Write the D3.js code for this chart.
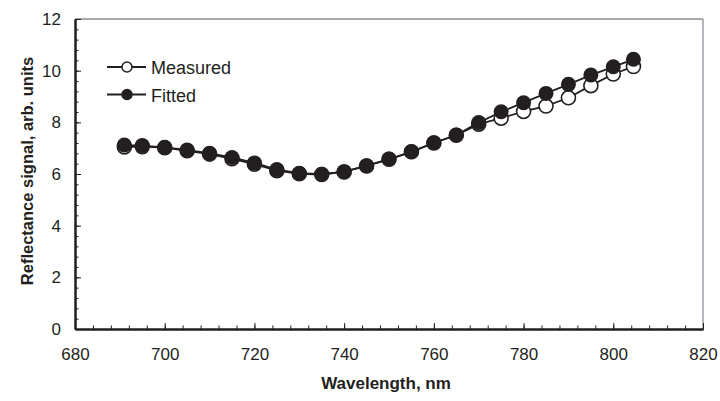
<!DOCTYPE html>
<html lang='en'>
	<head>
		<meta charset='utf-8'>
		<title>Reflectance signal</title>
		<script type='text/javascript' src='https://cdn.jsdelivr.net/npm/d3@7'></script>
		<style>
			body { margin: 0; background: #fff; }
			text { font-family: 'Liberation Sans', Arial, Helvetica, sans-serif; fill: #231f20; }
		</style>
	</head>
	<body>
	</body>
	<script type='text/javascript'>
	var wavelength = [691, 695, 700, 705, 710, 715, 720, 725, 730, 735, 740, 745, 750, 755, 760, 765, 770, 775, 780, 785, 790, 795, 800, 804.5];
	var measured = [7.05, 7.06, 7.02, 6.9, 6.77, 6.59, 6.38, 6.13, 6.01, 5.98, 6.08, 6.31, 6.57, 6.86, 7.2, 7.5, 7.93, 8.16, 8.42, 8.63, 8.95, 9.42, 9.87, 10.16];
	var fitted = [7.12, 7.1, 7.03, 6.93, 6.8, 6.64, 6.43, 6.17, 6.03, 5.99, 6.09, 6.32, 6.58, 6.86, 7.21, 7.51, 7.99, 8.41, 8.76, 9.12, 9.47, 9.83, 10.15, 10.44];
	var x_ticks = [680, 700, 720, 740, 760, 780, 800, 820];
	var y_ticks = [0, 2, 4, 6, 8, 10, 12];
	var series_names = ['Measured', 'Fitted'];

	function plot_it() {
		var width = 720, height = 401;
		var plot_left = 75, plot_right = 703, plot_top = 19, plot_bottom = 329;
		var ink = '#231f20';

		var svg = d3.select('body').append('svg').attr('width', width).attr('height', height);

		var x_scale = d3.scaleLinear().domain([680, 820]).range([plot_left, plot_right]);
		var y_scale = d3.scaleLinear().domain([0, 12]).range([plot_bottom, plot_top]);

		// frame: top and right in grey
		svg.append('line').attr('x1', plot_left).attr('x2', plot_right).attr('y1', plot_top).attr('y2', plot_top)
			.attr('stroke', '#8c8c8c').attr('stroke-width', 1.5);
		svg.append('line').attr('x1', plot_right).attr('x2', plot_right).attr('y1', plot_top).attr('y2', plot_bottom)
			.attr('stroke', '#9aa0a8').attr('stroke-width', 1.5);

		var x_minor = d3.range(680, 821, 4);
		var y_minor = d3.range(0, 12.01, 0.4);

		svg.append('g').attr('transform', 'translate(0,' + plot_bottom + ')')
			.call(d3.axisBottom(x_scale).tickValues(x_minor).tickFormat('').tickSize(-3.5).tickSizeOuter(0));
		svg.append('g').attr('transform', 'translate(' + plot_left + ',0)')
			.call(d3.axisLeft(y_scale).tickValues(y_minor).tickFormat('').tickSize(-3.5).tickSizeOuter(0));

		svg.append('g').attr('transform', 'translate(0,' + plot_bottom + ')')
			.call(d3.axisBottom(x_scale).tickValues(x_ticks).tickSize(-6).tickSizeOuter(0).tickPadding(19));
		svg.append('g').attr('transform', 'translate(' + plot_left + ',0)')
			.call(d3.axisLeft(y_scale).tickValues(y_ticks).tickSize(-6).tickSizeOuter(0).tickPadding(14));

		svg.selectAll('.domain').attr('stroke', ink).attr('stroke-width', 2);
		svg.selectAll('.tick line').attr('stroke', ink).attr('stroke-width', 1);
		svg.selectAll('.tick text').attr('font-size', '17px').attr('fill', ink)
			.attr('font-family', "'Liberation Sans', Arial, sans-serif");

		svg.append('text').attr('x', (plot_left + plot_right) / 2 - 3).attr('y', 389).attr('text-anchor', 'middle')
			.attr('font-size', '17px').attr('font-weight', 'bold').text('Wavelength, nm');
		svg.append('text').attr('transform', 'translate(33,171)rotate(-90)')
			.attr('text-anchor', 'middle').attr('font-size', '16.5px').attr('font-weight', 'bold')
			.text('Reflectance signal, arb. units');

		var line_gen = function(vals) {
			return d3.line().x((d, i) => x_scale(wavelength[i])).y(d => y_scale(d))(vals);
		};

		svg.append('path').attr('d', line_gen(measured)).attr('fill', 'none').attr('stroke', ink).attr('stroke-width', 1.8);
		svg.append('g').selectAll('circle').data(measured).enter().append('circle')
			.attr('cx', (d, i) => x_scale(wavelength[i])).attr('cy', d => y_scale(d)).attr('r', 7)
			.attr('fill', '#fff').attr('stroke', ink).attr('stroke-width', 1.6);

		svg.append('path').attr('d', line_gen(fitted)).attr('fill', 'none').attr('stroke', ink).attr('stroke-width', 1.8);
		svg.append('g').selectAll('circle').data(fitted).enter().append('circle')
			.attr('cx', (d, i) => x_scale(wavelength[i])).attr('cy', d => y_scale(d)).attr('r', 7.5)
			.attr('fill', ink);

		// legend
		var legend = svg.append('g').selectAll('g').data(series_names).enter().append('g')
			.attr('transform', (d, i) => 'translate(107,' + (67 + i * 27.5) + ')');
		legend.append('line').attr('x1', 0).attr('x2', 39).attr('stroke', ink).attr('stroke-width', 1.8);
		legend.append('circle').attr('cx', 20).attr('r', 5)
			.attr('fill', (d, i) => i == 0 ? '#fff' : ink).attr('stroke', ink).attr('stroke-width', 1.5);
		legend.append('text').attr('x', 44).attr('y', 7).attr('font-size', '18px').text(d => d);
	}
	plot_it();
	</script>
</html>
